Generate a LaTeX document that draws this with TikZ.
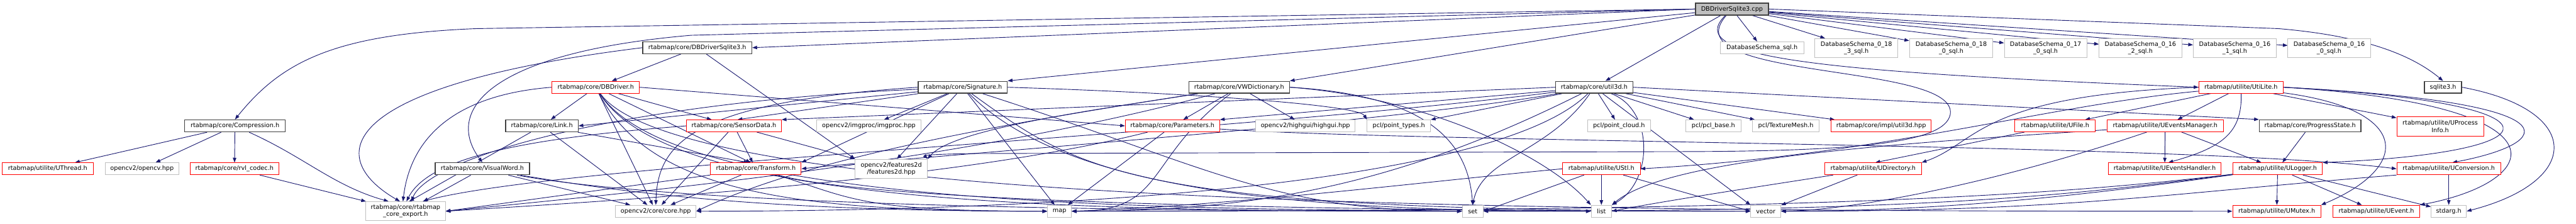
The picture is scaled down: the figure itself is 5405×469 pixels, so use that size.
\documentclass[tikz,border=0pt]{standalone}
\usepackage{fontspec}
\newfontfamily\doxfont{DejaVu Sans}
\usetikzlibrary{arrows.meta, backgrounds}
\definecolor{edgeblue}{HTML}{191970}
\definecolor{extgray}{HTML}{BFBFBF}
\definecolor{truncred}{HTML}{FF0000}
\definecolor{docgray}{HTML}{404040}

\begin{document}
\begin{tikzpicture}[x=0.5pt, y=-0.5pt,
  file/.style={rectangle, draw, line width=0.6pt, inner sep=0pt, fill=white,
    minimum height=12.5pt, align=center, font=\doxfont\fontsize{6.4pt}{7.4pt}\selectfont},
  wd/.style={minimum width=#1*0.5pt},
  tall/.style={minimum height=20pt},
  docfile/.style={file, draw=docgray, line width=0.9pt},
  extfile/.style={file, draw=extgray},
  trunc/.style={file, draw=truncred},
  root/.style={file, draw=docgray, line width=0.9pt, fill=extgray},
  dep/.style={draw=edgeblue, line width=0.6pt, -{Triangle[length=5pt, width=3.6pt]}}]
  \useasboundingbox (0,0) rectangle (5405,469);

  % root
  \node[root, wd=153] (cpp) at (3634,19) {DBDriverSqlite3.cpp};

  % first level
  \node[docfile, wd=229] (dbsqlh) at (1463,100) {rtabmap/core/DBDriverSqlite3.h};
  \node[extfile, wd=175] (schema) at (3697,100) {DatabaseSchema\_sql.h};
  \node[extfile, wd=174, tall] (s0183) at (3895,101) {DatabaseSchema\_0\_18\\\_3\_sql.h};
  \node[extfile, wd=175, tall] (s0180) at (4094,101) {DatabaseSchema\_0\_18\\\_0\_sql.h};
  \node[extfile, wd=173, tall] (s0170) at (4292,101) {DatabaseSchema\_0\_17\\\_0\_sql.h};
  \node[extfile, wd=173, tall] (s0162) at (4491,101) {DatabaseSchema\_0\_16\\\_2\_sql.h};
  \node[extfile, wd=174, tall] (s0161) at (4689,101) {DatabaseSchema\_0\_16\\\_1\_sql.h};
  \node[extfile, wd=173, tall] (s0160) at (4887,101) {DatabaseSchema\_0\_16\\\_0\_sql.h};

  \node[trunc, wd=183] (dbdriver) at (1250,183) {rtabmap/core/DBDriver.h};
  \node[docfile, wd=187] (signature) at (2020,183) {rtabmap/core/Signature.h};
  \node[docfile, wd=211] (vwdict) at (2600,183) {rtabmap/core/VWDictionary.h};
  \node[docfile, wd=162] (util3d) at (3345,183) {rtabmap/core/util3d.h};
  \node[trunc, wd=177] (utilite) at (4702,183) {rtabmap/utilite/UtiLite.h};
  \node[docfile, wd=78] (sqlite3) at (5126,183) {sqlite3.h};

  % middle rows
  \node[docfile, wd=211] (compression) at (493,264) {rtabmap/core/Compression.h};
  \node[docfile, wd=152] (link) at (1137,264) {rtabmap/core/Link.h};
  \node[trunc, wd=199] (sensordata) at (1540,264) {rtabmap/core/SensorData.h};
  \node[extfile, wd=218] (imgproc) at (1823,264) {opencv2/imgproc/imgproc.hpp};
  \node[trunc, wd=198] (parameters) at (2460,264) {rtabmap/core/Parameters.h};
  \node[extfile, wd=208] (highgui) at (2739,264) {opencv2/highgui/highgui.hpp};
  \node[extfile, wd=133] (pointtypes) at (2935,264) {pcl/point\_types.h};
  \node[extfile, wd=131] (pointcloud) at (3397,264) {pcl/point\_cloud.h};
  \node[extfile, wd=115] (pclbase) at (3595,264) {pcl/pcl\_base.h};
  \node[extfile, wd=140] (texturemesh) at (3747,264) {pcl/TextureMesh.h};
  \node[trunc, wd=210] (util3dhpp) at (3947,264) {rtabmap/core/impl/util3d.hpp};
  \node[trunc, wd=169] (ufile) at (4312,264) {rtabmap/utilite/UFile.h};
  \node[trunc, wd=244] (ueventsmgr) at (4543,264) {rtabmap/utilite/UEventsManager.h};
  \node[docfile, wd=213] (progress) at (4847,264) {rtabmap/core/ProgressState.h};
  \node[trunc, wd=182, tall] (uprocess) at (5120,265) {rtabmap/utilite/UProcess\\Info.h};

  \node[trunc, wd=191] (uthread) at (100,354) {rtabmap/utilite/UThread.h};
  \node[extfile, wd=155] (opencv) at (298,354) {opencv2/opencv.hpp};
  \node[trunc, wd=187] (rvl) at (492,354) {rtabmap/core/rvl\_codec.h};
  \node[docfile, wd=198] (visualword) at (1012,354) {rtabmap/core/VisualWord.h};
  \node[trunc, wd=190] (transform) at (1586,354) {rtabmap/core/Transform.h};
  \node[extfile, wd=151, tall] (features2d) at (1870,354) {opencv2/features2d\\/features2d.hpp};
  \node[trunc, wd=163] (ustl) at (3360,354) {rtabmap/utilite/UStl.h};
  \node[trunc, wd=203] (udirectory) at (3930,354) {rtabmap/utilite/UDirectory.h};
  \node[trunc, wd=237] (ueventshandler) at (4542,354) {rtabmap/utilite/UEventsHandler.h};
  \node[trunc, wd=188] (ulogger) at (4779,354) {rtabmap/utilite/ULogger.h};
  \node[trunc, wd=218] (uconversion) at (5138,354) {rtabmap/utilite/UConversion.h};

  % bottom row
  \node[extfile, wd=167, tall] (coreexport) at (851,443) {rtabmap/core/rtabmap\\\_core\_export.h};
  \node[extfile, wd=169] (corehpp) at (1376,443) {opencv2/core/core.hpp};
  \node[extfile, wd=50] (map) at (2223,443) {map};
  \node[extfile, wd=44] (set) at (3090,443) {set};
  \node[extfile, wd=43] (list) at (3360,443) {list};
  \node[extfile, wd=63] (vector) at (3705,443) {vector};
  \node[trunc, wd=185] (umutex) at (4777,443) {rtabmap/utilite/UMutex.h};
  \node[trunc, wd=182] (uevent) at (4986,443) {rtabmap/utilite/UEvent.h};
  \node[extfile, wd=74] (stdarg) at (5138,443) {stdarg.h};

  \begin{scope}[on background layer]
  % includes of the root file
  \draw[dep] (cpp.west) -- (dbsqlh.east);
  \draw[dep] (cpp.west) -- (1000,60) .. controls (700,72) and (590,130) .. (compression.north);
  \draw[dep] (cpp.west) -- (1450,74) .. controls (1030,110) and (930,230) .. (visualword.north);
  \draw[dep] (cpp) -- (signature.north east);
  \draw[dep] (cpp) -- (vwdict.north east);
  \draw[dep] (cpp) -- (util3d);
  \draw[dep] (cpp) -- (schema);
  \draw[dep] (cpp) -- (s0183);
  \draw[dep] (cpp) -- (s0180);
  \draw[dep] (cpp) -- (s0170);
  \draw[dep] (cpp) -- (s0162);
  \draw[dep] (cpp) -- (s0161);
  \draw[dep] (cpp) -- (s0160);
  \draw[dep] (cpp.east) -- (4780,60) .. controls (4960,75) and (5060,115) .. (sqlite3.north);
  \draw[dep] (cpp) .. controls (3530,120) and (3800,150) .. (utilite.west);
  \draw[dep] (cpp) .. controls (3500,170) and (4110,130) .. (4092,240)
    .. controls (4080,300) and (3900,318) .. (3500,318) -- (2050,322)
    .. controls (1960,323) and (1940,326) .. (features2d.north east);

  % rtabmap/core/DBDriverSqlite3.h
  \draw[dep] (dbsqlh) -- (dbdriver);
  \draw[dep] (dbsqlh) -- (features2d.north west);
  \draw[dep] (dbsqlh.west) .. controls (700,180) and (680,330) .. (coreexport.120);

  % rtabmap/core/DBDriver.h
  \draw[dep] (dbdriver) -- (link);
  \draw[dep] (dbdriver) -- (sensordata);
  \draw[dep] (dbdriver) -- (transform.130);
  \draw[dep] (dbdriver) -- (corehpp);
  \draw[dep] (dbdriver.east) -- (parameters.west);
  \draw[dep] (dbdriver.west) .. controls (940,200) and (860,300) .. (coreexport.105);
  \draw[dep] (dbdriver) .. controls +(120,230) and +(-500,0) .. (map.west);
  \draw[dep] (dbdriver) .. controls +(150,240) and +(-900,0) .. (set.west);
  \draw[dep] (dbdriver) .. controls +(160,245) and +(-1000,0) .. (list.west);
  \draw[dep] (dbdriver) .. controls +(180,250) and +(-1500,0) .. (umutex.west);

  % rtabmap/core/Link.h, SensorData.h, Transform.h, VisualWord.h
  \draw[dep] (link) -- (transform.140);
  \draw[dep] (link) -- (corehpp);
  \draw[dep] (link) -- (coreexport.70);
  \draw[dep] (sensordata) -- (transform);
  \draw[dep] (sensordata) -- (corehpp);
  \draw[dep] (sensordata) -- (features2d.north west);
  \draw[dep] (sensordata.west) .. controls (1100,290) and (900,330) .. (coreexport.85);
  \draw[dep] (transform) -- (corehpp);
  \draw[dep] (transform) -- (coreexport.east);
  \draw[dep] (transform) .. controls +(200,60) and +(-400,0) .. (map.west);
  \draw[dep] (transform) .. controls +(250,70) and +(-900,0) .. (vector.west);
  \draw[dep] (visualword) -- (coreexport);
  \draw[dep] (visualword) -- (corehpp);
  \draw[dep] (visualword) .. controls +(300,50) and +(-600,0) .. (map.west);
  \draw[dep] (visualword) .. controls +(300,55) and +(-1200,0) .. (set.west);

  % rtabmap/core/Compression.h
  \draw[dep] (compression) -- (uthread);
  \draw[dep] (compression) -- (opencv);
  \draw[dep] (compression) -- (rvl);
  \draw[dep] (compression) .. controls (640,330) and (700,390) .. (coreexport.150);
  \draw[dep] (rvl) -- (coreexport);

  % rtabmap/core/Signature.h
  \draw[dep] (signature) -- (imgproc);
  \draw[dep] (signature) -- (features2d.60);
  \draw[dep] (signature) -- (link.east);
  \draw[dep] (signature) -- (sensordata.60);
  \draw[dep] (signature) -- (transform.north east);
  \draw[dep] (signature.west) .. controls (1450,215) and (1380,300) .. (corehpp.north);
  \draw[dep] (signature) .. controls (1300,215) and (900,330) .. (coreexport.60);
  \draw[dep] (signature) -- (map);
  \draw[dep] (signature) .. controls +(200,200) and +(-700,0) .. (list.west);
  \draw[dep] (signature) .. controls +(250,180) and +(-1300,0) .. (vector.west);
  \draw[dep] (signature) .. controls +(500,160) and +(-400,0) .. (set.west);
  \draw[dep] (signature.east) .. controls (2500,195) and (2850,220) .. (pointtypes.north west);

  % rtabmap/core/VWDictionary.h
  \draw[dep] (vwdict) -- (parameters);
  \draw[dep] (vwdict) -- (highgui);
  \draw[dep] (vwdict) .. controls (2300,230) and (2000,270) .. (features2d.north east);
  \draw[dep] (vwdict) .. controls (2100,260) and (1700,330) .. (corehpp.east);
  \draw[dep] (vwdict) .. controls +(-200,150) and +(200,0) .. (map.east);
  \draw[dep] (vwdict.east) .. controls (3000,200) and (3080,300) .. (set.north);
  \draw[dep] (vwdict.east) .. controls (3000,205) and (3250,330) .. (list.north west);
  \draw[dep] (vwdict) .. controls +(-600,160) and +(400,-40) .. (coreexport.east);

  % rtabmap/core/util3d.h
  \draw[dep] (util3d) -- (pointtypes.north east);
  \draw[dep] (util3d) -- (pointcloud);
  \draw[dep] (util3d) -- (pclbase);
  \draw[dep] (util3d) -- (texturemesh);
  \draw[dep] (util3d) -- (util3dhpp);
  \draw[dep] (util3d.east) -- (progress.north west);
  \draw[dep] (util3d.west) -- (sensordata.north east);
  \draw[dep] (util3d) -- (parameters.north east);
  \draw[dep] (util3d) .. controls (2900,260) and (1900,330) .. (transform.east);
  \draw[dep] (util3d) .. controls +(-200,200) and +(800,0) .. (corehpp.east);
  \draw[dep] (util3d) .. controls +(-800,100) and +(300,-80) .. (coreexport.30);
  \draw[dep] (util3d) .. controls (3250,320) and (3110,330) .. (set.north);
  \draw[dep] (util3d) .. controls (3470,230) and (3470,380) .. (list.north east);
  \draw[dep] (util3d) .. controls +(-400,200) and +(400,0) .. (map.east);
  \draw[dep] (util3d) -- (vector.north west);

  % rtabmap/utilite/UtiLite.h
  \draw[dep] (utilite) .. controls (4300,220) and (3950,325) .. (ustl.east);
  \draw[dep] (utilite) -- (ufile);
  \draw[dep] (utilite.west) .. controls (4150,200) and (4150,300) .. (udirectory.north east);
  \draw[dep] (utilite) -- (ueventsmgr);
  \draw[dep] (utilite) .. controls (4705,280) and (4660,310) .. (ueventshandler.60);
  \draw[dep] (utilite) -- (uprocess);
  \draw[dep] (utilite.east) .. controls (5400,215) and (5380,320) .. (ulogger.north east);
  \draw[dep] (utilite.east) .. controls (5420,215) and (5360,300) .. (uconversion.60);
  \draw[dep] (utilite.east) .. controls (5400,220) and (5340,380) .. (uevent.north east);
  \draw[dep] (utilite) .. controls (5060,230) and (5060,350) .. (umutex.north east);

  % remaining utilite headers
  \draw[dep] (ustl) -- (list);
  \draw[dep] (ustl) -- (set.east);
  \draw[dep] (ustl) -- (vector.west);
  \draw[dep] (ustl.west) .. controls (3000,380) and (2600,430) .. (map.east);
  \draw[dep] (ufile) -- (udirectory.70);
  \draw[dep] (udirectory) -- (vector);
  \draw[dep] (udirectory) .. controls (3700,390) and (3500,420) .. (list.east);
  \draw[dep] (ueventsmgr) -- (ueventshandler);
  \draw[dep] (ueventsmgr) -- (ulogger);
  \draw[dep] (ueventsmgr) .. controls (4000,300) and (3500,330) .. (list.north east);
  \draw[dep] (ueventsmgr) .. controls (4200,380) and (3900,440) .. (vector.east);
  \draw[dep] (progress) -- (ulogger);
  \draw[dep] (ulogger) -- (umutex);
  \draw[dep] (ulogger) -- (uevent);
  \draw[dep] (ulogger) -- (stdarg);
  \draw[dep] (ulogger) .. controls +(-300,40) and +(400,0) .. (vector.east);
  \draw[dep] (ulogger) .. controls +(-400,50) and +(1000,0) .. (set.east);
  \draw[dep] (ulogger) .. controls +(-500,60) and +(1500,0) .. (map.east);
  \draw[dep] (uconversion) -- (stdarg);
  \draw[dep] (uconversion.south west) .. controls +(-500,40) and +(600,0) .. (vector.east);
  \draw[dep] (sqlite3.east) .. controls (5420,230) and (5420,380) .. (stdarg.east);

  % rtabmap/core/Parameters.h
  \draw[dep] (parameters) -- (map);
  \draw[dep] (parameters) .. controls (2000,380) and (1300,420) .. (coreexport.east);
  \draw[dep] (parameters) .. controls (3000,300) and (4600,300) .. (uconversion.west);
  \end{scope}
\end{tikzpicture}
\end{document}
